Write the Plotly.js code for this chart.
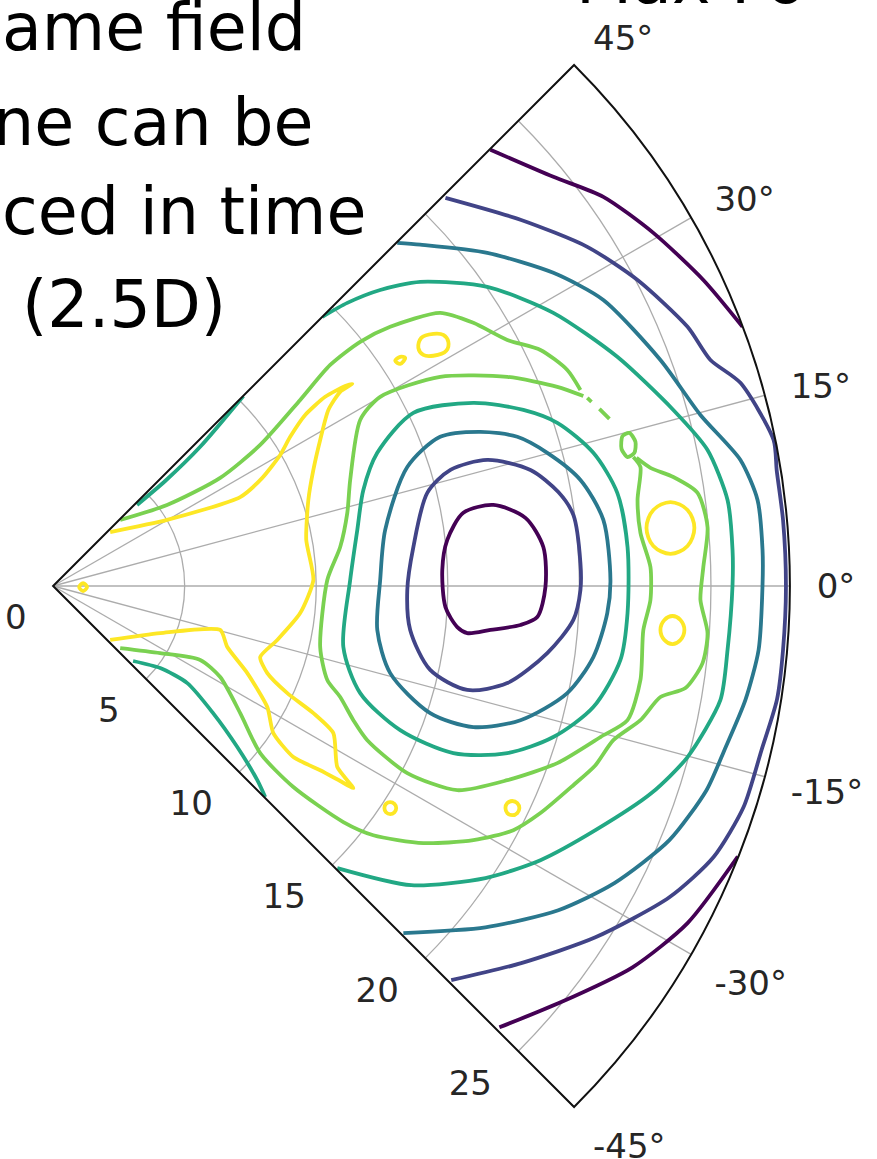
<!DOCTYPE html>
<html><head><meta charset="utf-8">
<script src="https://cdn.plot.ly/plotly-3.0.1.min.js"></script>
<style>html,body{margin:0;padding:0;background:#fff}#chart{width:877px;height:1159px}</style>
</head><body><div id="chart"></div>
<script>
// ---- axis ticks ----
const angleTicks = [-45, -30, -15, 0, 15, 30, 45];
const angleTickText = ['-45°', '-30°', '-15°', '0°', '15°', '30°', '45°'];
const radialTicks = [0, 5, 10, 15, 20, 25];
const radialTickText = ['0', '5', '10', '15', '20', '25'];
const radialMax = 28;
// contour level colours (viridis, low -> high)
const levelColors = ['#440154', '#414487', '#2a788e', '#22a884', '#7ad151', '#fde725'];

// ---- contour lines (x = r cos θ, y = r sin θ, data units) ----
const purpleInnerX = [16.73,17.95,18.63,18.71,18.40,17.76,16.62,15.74,15.36,14.91,14.79,14.98,15.59,16.73];
const purpleInnerY = [3.08,2.59,1.48,-0.04,-1.18,-1.48,-1.67,-1.79,-1.56,-0.80,0.61,1.75,2.78,3.08];

const indigoInnerX = [16.50,18.14,19.20,19.77,20.04,20.04,19.77,18.78,17.26,15.74,14.33,13.57,13.46,13.69,14.22,15.10,16.50];
const indigoInnerY = [4.79,4.41,3.57,2.70,0.87,-0.15,-1.29,-2.55,-3.69,-3.95,-3.19,-1.67,-0.15,1.48,3.54,4.41,4.79];

const blueInnerX = [16.24,17.64,18.78,20.04,20.91,21.18,21.06,20.53,19.54,17.76,15.97,14.33,12.81,12.32,12.43,12.62,13.46,14.71,16.24];
const blueInnerY = [5.86,5.67,5.06,4.03,2.51,0.23,-1.03,-2.70,-4.07,-5.10,-5.36,-4.83,-3.31,-1.67,0.23,2.13,4.52,5.67,5.86];

const tealInnerX = [12.32,13.69,15.97,17.87,19.16,20.53,21.44,21.83,21.83,21.56,20.53,19.01,17.26,15.21,13.19,11.67,11.03,11.29,11.56,11.79,12.32];
const tealInnerY = [5.06,6.58,6.96,6.69,6.20,5.06,3.54,1.48,-1.03,-2.81,-4.60,-5.74,-6.35,-6.35,-5.48,-4.07,-2.32,0.23,2.13,3.65,5.06];

const greenInnerX = [20.15,19.16,17.26,14.71,12.43,11.67,11.29,11.18,10.91,10.42,10.15,10.42,10.91,11.41,11.94,13.46,15.36,17.26,19.16,20.80,21.83,22.32,22.43,22.70,22.70,22.32,22.21,22.32,22.05];
const greenInnerY = [7.22,7.57,7.95,7.95,7.19,6.31,4.03,2.78,1.48,0.23,-2.32,-3.57,-4.22,-5.10,-5.86,-7.11,-7.76,-7.38,-6.73,-5.74,-5.10,-3.57,-1.67,-0.53,0.72,2.02,3.27,4.52,4.90];

const greenOuterX = [2.55,4.33,6.35,7.87,9.39,10.53,11.67,12.81,14.71,15.97,17.26,18.52,19.54,20.04,null,20.30,20.46,null,20.76,21.14,null,21.64,21.90,22.13,22.09,21.83,21.60,21.64,null,22.17,22.70,23.57,24.49,24.87,24.71,24.60,24.87,24.68,24.03,23.08,22.32,21.29,20.61,19.77,18.52,17.49,15.97,14.07,12.17,11.03,9.13,7.87,7.11,6.35,5.59,4.07,2.55];
const greenOuterY = [2.51,3.08,4.11,5.36,7.07,8.40,9.28,9.85,10.38,10.00,9.35,8.97,8.21,7.45,null,7.15,7.00,null,6.73,6.35,null,5.70,5.82,5.48,5.06,4.90,5.21,5.70,null,4.87,4.49,4.14,3.54,2.24,0.72,-0.53,-1.79,-2.93,-3.88,-4.22,-5.10,-5.86,-6.81,-7.57,-8.63,-9.28,-9.66,-9.77,-9.47,-8.97,-7.64,-6.35,-4.83,-3.46,-2.81,-2.55,-2.36];

const yellowMainX = [2.17,4.33,7.11,7.95,8.63,9.01,9.58,10.34,11.10,11.37,10.91,10.46,10.15,9.89,9.70,9.62,9.89,9.39,8.52,7.87,8.14,8.90,9.89,10.65,10.80,11.41,10.91,10.15,9.13,8.37,8.14,7.38,6.62,6.35,4.07,2.17];
const yellowMainY = [2.05,2.51,3.38,4.11,4.98,5.67,6.50,7.19,7.60,7.68,7.38,6.69,5.55,4.41,3.27,1.75,0.23,-1.03,-2.05,-2.70,-3.31,-4.07,-4.83,-5.59,-6.88,-7.68,-7.41,-7.00,-6.50,-5.59,-4.60,-3.31,-2.32,-1.67,-1.79,-2.05];

const yellowOriginX = [1.29,1.14,0.99,1.14,1.29];
const yellowOriginY = [-0.04,0.11,-0.04,-0.19,-0.04];
const yellowRingX = [15.02,14.83,14.45,13.99,13.88,14.07,14.45,14.94,15.02];
const yellowRingY = [9.28,9.54,9.58,9.43,9.05,8.78,8.75,8.94,9.28];
const yellowDotX = [13.38,13.19,13.00,13.19,13.38];
const yellowDotY = [8.67,8.71,8.56,8.44,8.67];
const yellowBigX = [24.37,24.11,23.46,22.81,22.55,22.81,23.46,24.11,24.37];
const yellowBigY = [2.21,2.89,3.19,2.89,2.21,1.52,1.22,1.52,2.21];
const yellowRightX = [23.99,23.84,23.54,23.23,23.08,23.23,23.54,23.84,23.99];
const yellowRightY = [-1.67,-1.29,-1.14,-1.29,-1.67,-2.05,-2.21,-2.05,-1.67];
const yellowLow1X = [13.04,12.97,12.81,12.65,12.59,12.65,12.81,12.97,13.04];
const yellowLow1Y = [-8.44,-8.28,-8.21,-8.28,-8.44,-8.60,-8.67,-8.60,-8.44];
const yellowLow2X = [17.72,17.64,17.45,17.26,17.19,17.26,17.45,17.64,17.72];
const yellowLow2Y = [-8.44,-8.25,-8.17,-8.25,-8.44,-8.63,-8.71,-8.63,-8.44];

const tealOuterX = [3.19,4.26,5.59,7.23,null,10.23,11.18,12.43,13.95,16.50,19.01,21.44,23.57,24.87,25.63,25.82,25.82,25.63,25.36,24.11,22.74,20.61,18.52,16.43,13.61,10.80,null,8.06,7.76,7.00,6.08,5.10,4.07,3.04];
const tealOuterY = [3.08,3.99,5.29,7.22,null,10.23,10.76,11.25,11.56,11.37,10.38,8.71,6.69,5.17,3.27,1.37,0.04,-2.43,-4.33,-6.50,-7.87,-9.28,-10.42,-11.10,-11.37,-10.72,null,-8.02,-7.38,-6.12,-4.83,-3.69,-3.12,-2.85];

const blueOuterX = [13.08,13.95,16.50,19.01,20.91,23.08,24.60,26.12,26.77,26.96,26.96,26.81,26.31,25.51,24.83,23.42,21.33,19.20,16.43,13.31];
const blueOuterY = [13.04,12.97,12.66,11.90,10.87,8.59,6.50,4.79,3.27,1.37,0.04,-2.43,-4.33,-6.24,-7.76,-9.66,-11.29,-12.32,-12.97,-13.19];

const indigoOuterX = [14.91,17.76,20.30,22.21,24.11,24.98,26.12,27.38,27.50,27.74,27.85,27.74,27.51,26.92,26.24,25.10,23.42,20.61,17.79,15.13];
const indigoOuterY = [14.75,13.92,12.89,11.63,9.85,8.59,7.72,5.55,4.38,2.50,-0.04,-2.42,-4.31,-6.24,-8.40,-10.30,-11.83,-13.35,-14.33,-14.98];

const purpleOuterX = [16.62,19.01,20.91,22.81,24.71,26.20,null,16.96,19.20,22.02,24.11,26.02];
const purpleOuterY = [16.58,15.55,14.79,13.42,11.63,9.85,null,-16.77,-15.86,-14.49,-12.81,-10.28];

// ---- text ----
const leftLines = ['ame field', 'ne can be', 'ced in time', '(2.5D)'];
const topRightText = 'Max Fo';

const contours = [
  [purpleOuterX, purpleOuterY, 0, 0.7],
  [indigoOuterX, indigoOuterY, 1, 0.7],
  [blueOuterX, blueOuterY, 2, 0.7],
  [tealOuterX, tealOuterY, 3, 0.7],
  [greenOuterX, greenOuterY, 4, 0.7],
  [greenInnerX, greenInnerY, 4, 0.7],
  [tealInnerX, tealInnerY, 3, 0.8],
  [blueInnerX, blueInnerY, 2, 0.8],
  [indigoInnerX, indigoInnerY, 1, 0.8],
  [purpleInnerX, purpleInnerY, 0, 0.8],
  [yellowMainX, yellowMainY, 5, 0.6],
  [yellowOriginX, yellowOriginY, 5, 1],
  [yellowRingX, yellowRingY, 5, 1],
  [yellowDotX, yellowDotY, 5, 1],
  [yellowBigX, yellowBigY, 5, 1],
  [yellowRightX, yellowRightY, 5, 1],
  [yellowLow1X, yellowLow1Y, 5, 1],
  [yellowLow2X, yellowLow2Y, 5, 1]
];

function toPolar(xs, ys) {
  const r = [], t = [];
  for (let i = 0; i < xs.length; i++) {
    if (xs[i] === null) { r.push(null); t.push(null); continue; }
    r.push(Math.hypot(xs[i], ys[i]));
    t.push(Math.atan2(ys[i], xs[i]) * 180 / Math.PI);
  }
  return {r, t};
}

const traces = contours.map(([xs, ys, lv, sm]) => {
  const p = toPolar(xs, ys);
  return {
    type: 'scatterpolar', mode: 'lines', r: p.r, theta: p.t,
    line: {color: levelColors[lv], width: 3.8, shape: 'spline', smoothing: sm},
    connectgaps: false, hoverinfo: 'skip', showlegend: false
  };
});

const textFont = {family: 'DejaVu Sans', size: 65, color: '#000'};
const leftRight = [307, 315, 367, 227];
const leftBottom = [66, 161, 250, 343];
const annotations = leftLines.map((s, i) => ({
  text: s, xref: 'paper', yref: 'paper', x: leftRight[i] / 877, y: 1 - leftBottom[i] / 1159,
  xanchor: 'right', yanchor: 'bottom', showarrow: false, font: textFont, borderpad: 0
}));
annotations.push({
  text: topRightText, xref: 'paper', yref: 'paper', x: 575 / 877, y: 1 - 19 / 1159,
  xanchor: 'left', yanchor: 'bottom', showarrow: false, font: textFont, borderpad: 0
});

const tickFont = {family: 'DejaVu Sans', size: 34, color: '#262626'};
const layout = {
  width: 877, height: 1159,
  margin: {l: 0, r: 0, t: 0, b: 0},
  paper_bgcolor: '#fff', showlegend: false,
  font: {family: 'DejaVu Sans', color: '#262626'},
  polar: {
    domain: {x: [53 / 877, 790 / 877], y: [1 - 1107 / 1159, 1 - 65 / 1159]},
    sector: [-45, 45], bgcolor: '#fff',
    angularaxis: {
      tickmode: 'array', tickvals: angleTicks, ticktext: angleTickText,
      direction: 'counterclockwise', rotation: 0,
      showline: true, linecolor: '#111', linewidth: 2,
      showgrid: true, gridcolor: '#acacac', gridwidth: 1.3,
      ticks: 'outside', ticklen: 19, tickcolor: 'rgba(0,0,0,0)',
      tickfont: tickFont
    },
    radialaxis: {
      range: [0, radialMax], angle: -45, side: 'clockwise',
      tickmode: 'array', tickvals: radialTicks, ticktext: radialTickText,
      tickangle: -45,
      showline: false, showgrid: true, gridcolor: '#acacac', gridwidth: 1.3,
      ticks: 'outside', ticklen: 13, tickcolor: 'rgba(0,0,0,0)',
      tickfont: tickFont
    }
  },
  annotations: annotations
};

Plotly.newPlot('chart', traces, layout, {staticPlot: true, displayModeBar: false});
</script></body></html>
